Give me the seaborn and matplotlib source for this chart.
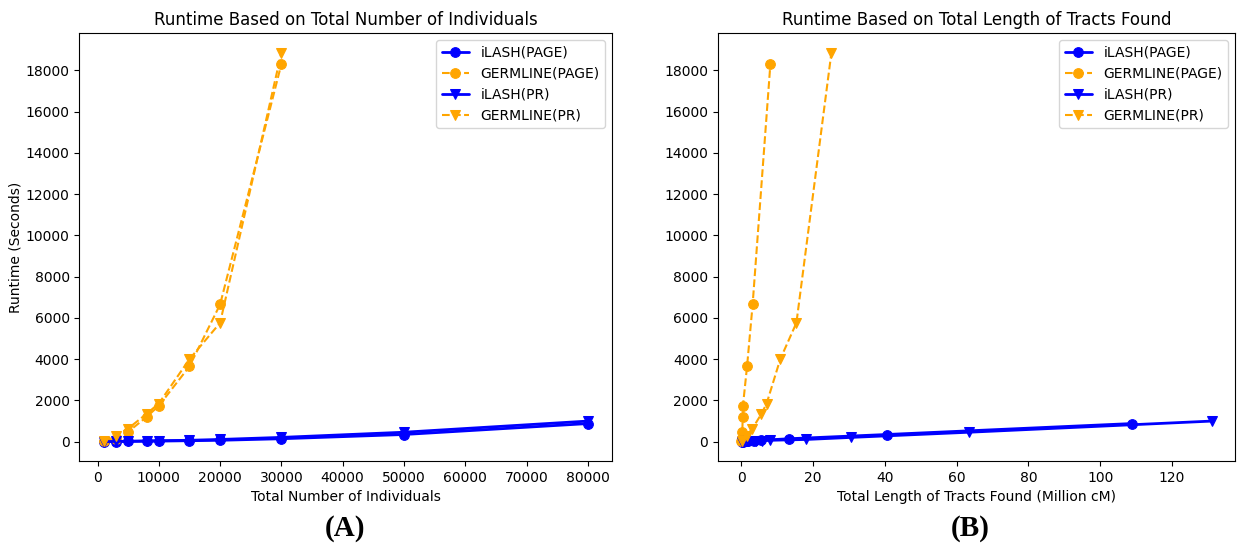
import matplotlib
matplotlib.use('Agg')
import matplotlib.pyplot as plt
import seaborn as sns

# population sizes (number of individuals)
individuals = [1000, 3000, 5000, 8000, 10000, 15000, 20000, 30000, 50000, 80000]
germ_individuals = [1000, 3000, 5000, 8000, 10000, 15000, 20000, 30000]

# runtimes (seconds)
ilash_page_time = [5, 10, 15, 25, 30, 50, 70, 145, 350, 880]
ilash_pr_time = [5, 15, 25, 40, 50, 70, 110, 210, 460, 1000]
germ_page_time = [30, 150, 480, 1200, 1740, 3650, 6650, 18300]
germ_pr_time = [40, 300, 640, 1350, 1850, 4000, 5760, 18850]

# total length of tracts found (million cM)
ilash_page_len = [0.1, 0.4, 0.8, 1.5, 2.0, 3.5, 5.6, 13.4, 40.5, 108.8]
ilash_pr_len = [0.2, 0.8, 2.0, 4.0, 5.8, 8.0, 18.1, 30.6, 63.4, 131.0]
germ_page_len = [0.05, 0.1, 0.27, 0.4, 0.45, 1.6, 3.15, 8.1]
germ_pr_len = [0.3, 1.5, 3.1, 5.6, 7.05, 10.85, 15.35, 25.1]

sns.set_style('ticks')
plt.rcParams['font.family'] = ['DejaVu Sans']
plt.rcParams['text.color'] = 'black'
plt.rcParams['axes.labelcolor'] = 'black'
plt.rcParams['xtick.color'] = 'black'
plt.rcParams['ytick.color'] = 'black'

fig = plt.figure(figsize=(12.45, 5.45), dpi=100)
ax1 = fig.add_axes([0.0638, 0.154, 0.4278, 0.785])
ax2 = fig.add_axes([0.5767, 0.154, 0.4153, 0.785])

blue = '#0000ff'
orange = '#ffa500'


def draw(ax, xs):
    x_ip, x_gp, x_ir, x_gr = xs
    sns.lineplot(x=x_ip, y=ilash_page_time, ax=ax, color=blue, marker='o',
                 markersize=7, markeredgecolor=blue, linewidth=2, sort=False,
                 label='iLASH(PAGE)')
    sns.lineplot(x=x_gp, y=germ_page_time, ax=ax, color=orange, marker='o',
                 markersize=7, markeredgecolor=orange, linewidth=1.5,
                 linestyle='--', sort=False, label='GERMLINE(PAGE)')
    sns.lineplot(x=x_ir, y=ilash_pr_time, ax=ax, color=blue, marker='v',
                 markersize=7, markeredgecolor=blue, linewidth=2, sort=False,
                 label='iLASH(PR)')
    sns.lineplot(x=x_gr, y=germ_pr_time, ax=ax, color=orange, marker='v',
                 markersize=7, markeredgecolor=orange, linewidth=1.5,
                 linestyle='--', sort=False, label='GERMLINE(PR)')
    ax.set_yticks(range(0, 18001, 2000))
    ax.legend(loc='upper right', fontsize=10, fancybox=True, framealpha=0.8,
              handlelength=2.0)
    for s in ax.spines.values():
        s.set_color('black')
        s.set_linewidth(0.8)
    ax.tick_params(labelsize=10, length=3.5, width=0.8)


draw(ax1, (individuals, germ_individuals, individuals, germ_individuals))
ax1.set_xticks(range(0, 80001, 10000))
ax1.set_title('Runtime Based on Total Number of Individuals', fontsize=12)
ax1.set_xlabel('Total Number of Individuals', fontsize=10)
ax1.set_ylabel('Runtime (Seconds)', fontsize=10, labelpad=2)

draw(ax2, (ilash_page_len, germ_page_len, ilash_pr_len, germ_pr_len))
ax2.set_xticks(range(0, 121, 20))
ax2.set_title('Runtime Based on Total Length of Tracts Found', fontsize=12)
ax2.set_xlabel('Total Length of Tracts Found (Million cM)', fontsize=10)
ax2.set_ylabel('')

fig.text(0.277, 0.031, '(A)', ha='center', va='center', fontsize=21,
         fontweight='bold', family='Liberation Serif')
fig.text(0.779, 0.031, '(B)', ha='center', va='center', fontsize=21,
         fontweight='bold', family='Liberation Serif')

plt.savefig('out.png', dpi=100)
plt.close()
